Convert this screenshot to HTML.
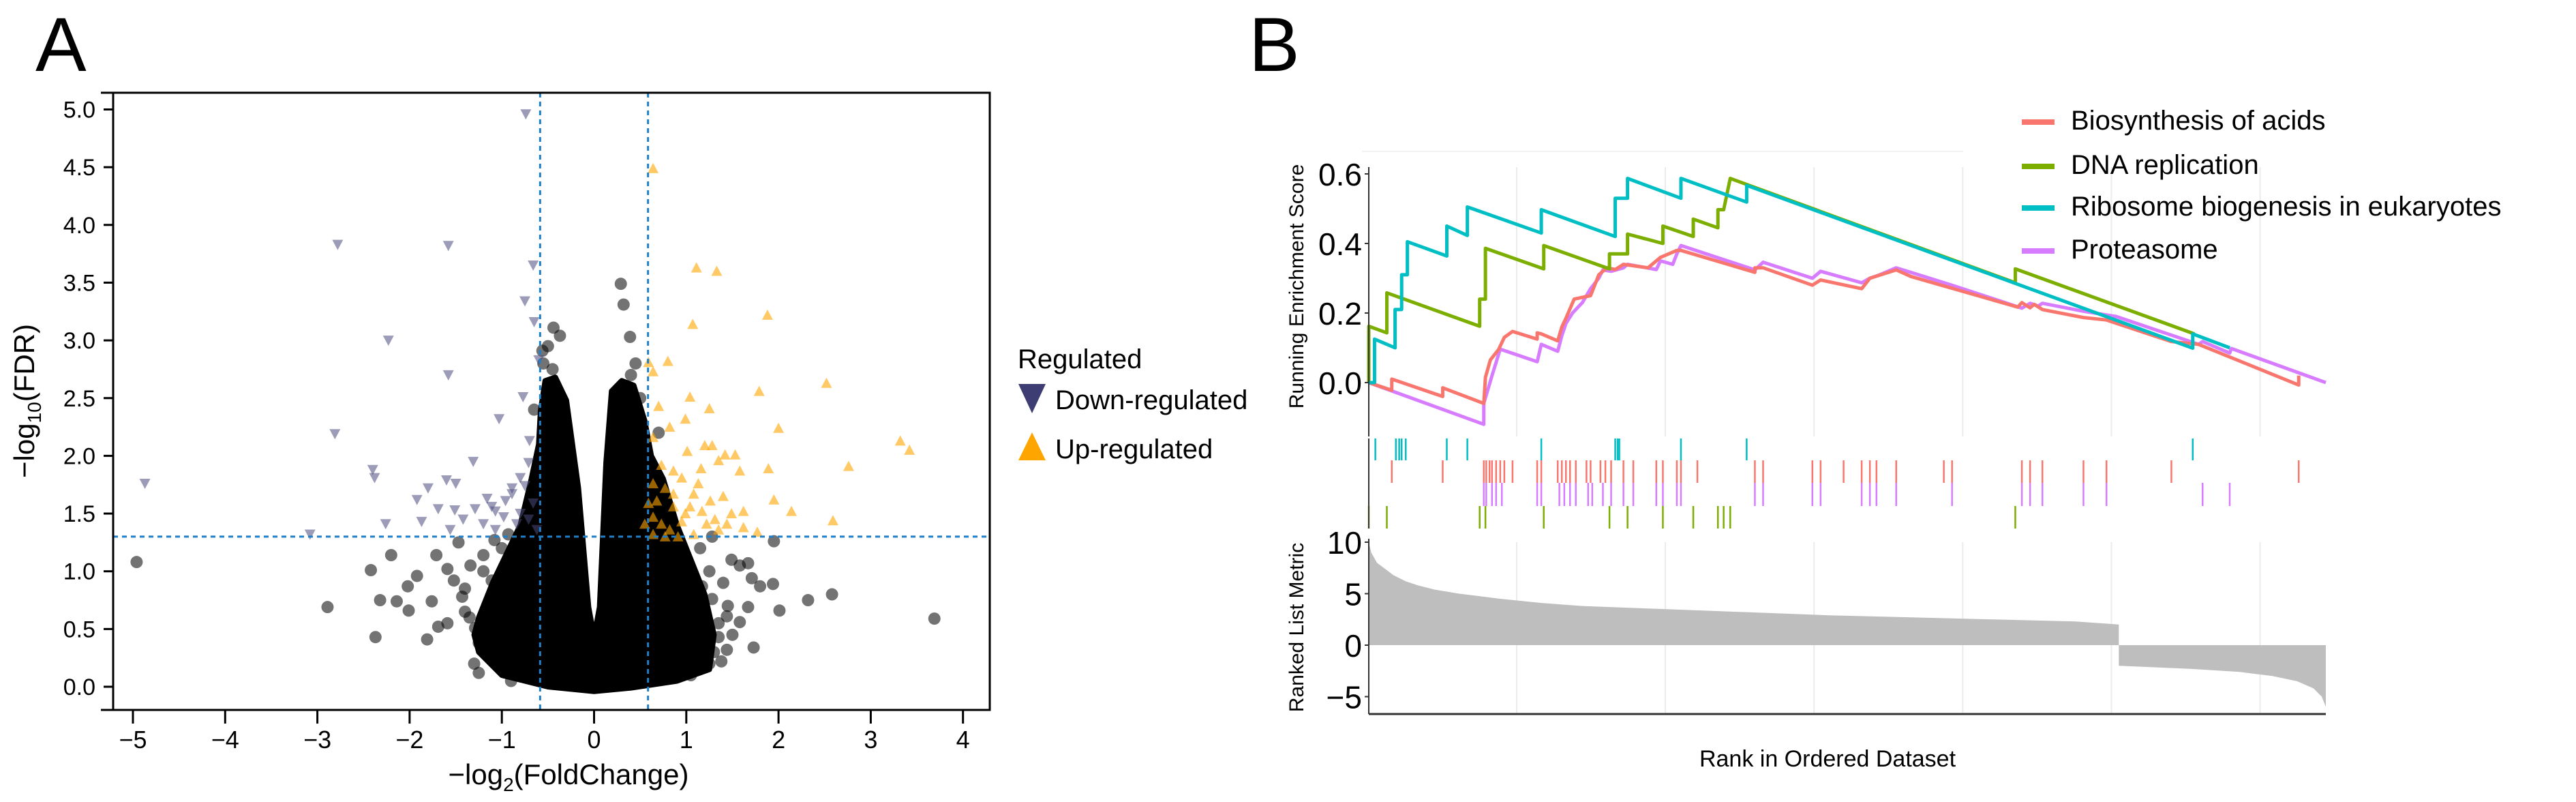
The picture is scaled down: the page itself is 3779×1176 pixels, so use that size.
<!DOCTYPE html>
<html><head><meta charset="utf-8"><style>
html,body{margin:0;padding:0;background:#fff;}
svg{display:block;font-family:"Liberation Sans",sans-serif;}
</style></head><body>
<svg id="fig" width="3779" height="1176" viewBox="0 0 3779 1176"></svg>
<script>
// ===== Panel A data (volcano) =====
const xTicksA = [-5,-4,-3,-2,-1,0,1,2,3,4];
const yTicksA = [0.0,0.5,1.0,1.5,2.0,2.5,3.0,3.5,4.0,4.5,5.0];
const fcCut = [-0.585, 0.585];
const fdrCut = [1.3];
const coreFC = [0,-0.5,-1.0,-1.25,-1.3,-1.25,-1.1,-0.95,-0.8,-0.68,-0.6,-0.58,-0.53,-0.42,-0.30,-0.17,-0.06,0,0.06,0.13,0.19,0.30,0.43,0.55,0.62,0.75,0.9,1.05,1.2,1.3,1.25,0.9,0.4];
const coreFDR = [-0.04,0.0,0.1,0.3,0.45,0.6,0.9,1.15,1.4,1.8,2.1,2.39,2.65,2.68,2.48,1.72,0.69,0.43,0.69,1.94,2.56,2.65,2.61,2.3,2.0,1.8,1.4,1.1,0.8,0.45,0.15,0.05,-0.01];
const nsFC = [-4.96,-2.89,-2.42,-2.20,-2.32,-2.37,-2.01,-2.14,-2.02,-1.92,-1.81,-1.76,-1.71,-1.69,-1.59,-1.59,-1.47,-1.52,-1.43,-1.40,-1.34,-1.29,-1.25,-1.20,-1.11,-1.08,-0.87,-0.93,0.29,0.32,0.39,-0.44,-0.37,-0.56,1.95,1.58,1.67,1.71,1.80,1.94,2.01,2.32,2.58,3.69,1.67,1.58,1.73,1.44,1.25,1.35,1.28,1.49,1.17,1.28,1.44,-1.3,-1.35,-1.4,-1.15,-1.2,-1.0,-0.9,-1.05,-0.8,-1.25,-1.1,1.35,1.4,1.3,1.15,1.45,1.25,1.05,1.5,1.38,1.2,-0.55,-0.5,-0.45,0.4,0.45,0.5,-0.65,0.7];
const nsFDR = [1.08,0.69,1.01,1.14,0.75,0.43,0.66,0.74,0.87,0.96,0.41,0.74,1.14,0.52,0.55,1.02,1.25,0.92,0.78,0.65,1.05,0.51,0.38,1.14,0.92,1.27,0.16,1.32,3.49,3.31,3.03,3.11,3.04,2.91,1.26,1.05,1.07,0.94,0.87,0.89,0.66,0.75,0.80,0.59,0.69,0.56,0.34,0.32,0.20,0.43,0.76,1.10,0.87,1.30,0.61,0.2,0.6,0.85,0.3,1.0,1.2,0.05,0.45,1.3,0.12,0.75,0.55,0.9,0.3,1.2,0.7,1.0,0.1,0.45,0.22,0.6,2.8,2.95,2.75,2.7,2.8,2.5,2.4,2.2];
const downFC = [-0.74,-2.78,-1.58,-0.66,-0.75,-0.65,-2.23,-0.60,-1.58,-0.77,-1.03,-2.81,-0.70,-1.31,-2.40,-2.38,-4.87,-1.60,-1.50,-1.80,-1.92,-1.69,-1.51,-1.29,-1.16,-1.07,-0.96,-0.89,-0.80,-0.84,-0.71,-0.62,-1.42,-1.56,-1.87,-2.26,-3.08,-1.20,-1.07,-0.80,-0.66,-0.98,-1.11,-0.71,-0.89,-0.75];
const downFDR = [4.96,3.83,3.82,3.65,3.34,3.16,3.00,2.83,2.70,2.51,2.32,2.19,2.13,1.95,1.88,1.81,1.76,1.79,1.76,1.72,1.62,1.54,1.53,1.54,1.63,1.52,1.61,1.67,1.81,1.41,1.45,1.36,1.45,1.36,1.43,1.41,1.32,1.41,1.36,1.50,1.59,1.47,1.56,1.94,1.72,1.74];
const upFC = [0.64,1.11,1.33,1.07,1.88,0.80,0.59,0.64,2.52,1.79,1.04,1.25,0.70,2.00,3.32,3.42,2.76,1.89,1.95,2.14,2.59,1.77,0.64,0.82,0.99,1.20,1.28,1.42,1.53,0.73,0.86,1.16,1.35,1.58,0.64,0.77,0.95,1.08,1.26,1.40,0.68,0.86,0.99,1.17,1.31,1.49,1.62,1.44,0.64,0.73,0.82,0.95,1.08,0.64,0.77,0.91,1.22,1.35,1.62,0.55,0.59,0.86,1.04,1.13,1.01];
const upFDR = [4.49,3.63,3.60,3.14,3.22,2.82,2.81,2.73,2.63,2.56,2.51,2.41,2.43,2.24,2.13,2.05,1.91,1.89,1.62,1.52,1.44,1.34,2.16,2.25,2.32,2.09,2.09,2.01,2.01,1.92,1.87,1.89,1.96,1.87,1.76,1.72,1.81,1.67,1.61,1.65,1.61,1.56,1.50,1.52,1.45,1.50,1.52,1.41,1.47,1.41,1.36,1.43,1.32,1.32,1.30,1.30,1.41,1.36,1.38,1.41,1.59,1.67,1.56,1.76,2.04];

// ===== Panel B data (GSEA) =====
const seriesNames = ["Biosynthesis of acids","DNA replication","Ribosome biogenesis in eukaryotes","Proteasome"];
const esTicks = [0.0,0.2,0.4,0.6];
const metricTicks = [10,5,0,-5];
const redRank = [0,28,28,90,90,140,142,148,158,165,175,205,205,210,230,235,240,250,270,280,290,300,310,340,355,375,380,470,470,480,540,550,600,610,642,660,790,795,805,810,820,870,898,977,1010,1132,1132];
const redES  = [0,-0.022,0.01,-0.04,-0.015,-0.06,0.015,0.065,0.095,0.13,0.147,0.125,0.143,0.14,0.12,0.16,0.185,0.24,0.25,0.31,0.33,0.325,0.34,0.33,0.36,0.38,0.38,0.317,0.33,0.33,0.28,0.295,0.27,0.3,0.324,0.305,0.217,0.23,0.215,0.225,0.21,0.187,0.18,0.118,0.11,-0.007,0.02];
const greenRank = [0,0,22,22,135,135,142,142,213,213,293,293,315,315,358,358,395,395,425,425,432,440,787,787,1005];
const greenES  = [0,0.162,0.143,0.258,0.162,0.24,0.24,0.386,0.327,0.394,0.327,0.37,0.37,0.427,0.40,0.45,0.42,0.47,0.445,0.497,0.497,0.587,0.287,0.327,0.14];
const cyanRank = [0,7,7,32,32,40,40,47,47,95,95,120,120,210,210,300,300,305,315,315,380,380,460,460,1003,1003,1048];
const cyanES  = [0,0,0.125,0.10,0.21,0.21,0.31,0.31,0.405,0.364,0.45,0.423,0.505,0.43,0.497,0.42,0.53,0.53,0.53,0.587,0.53,0.587,0.519,0.567,0.099,0.14,0.10];
const purpleRank = [0,140,140,150,160,205,210,230,235,240,248,260,270,280,285,295,310,315,350,355,370,375,380,470,480,540,550,600,610,620,642,710,795,805,815,820,870,910,1010,1015,1048,1050,1165];
const purpleES  = [0,-0.12,-0.06,0.02,0.096,0.06,0.11,0.09,0.135,0.17,0.2,0.23,0.27,0.3,0.324,0.32,0.33,0.34,0.325,0.35,0.34,0.37,0.394,0.324,0.346,0.30,0.32,0.287,0.30,0.308,0.33,0.28,0.214,0.228,0.22,0.228,0.205,0.19,0.11,0.118,0.085,0.098,0];
const cyanHits = [8,33,37,40,45,95,120,210,300,303,305,380,460,1003];
const redHits = [28,90,140,143,147,150,155,160,165,175,205,210,230,235,240,245,252,265,270,282,288,295,310,322,350,358,375,380,400,470,480,540,550,578,600,610,618,642,700,710,795,805,820,870,898,977,1132];
const purpleHits = [140,143,150,155,162,205,210,232,238,245,252,267,272,285,295,310,322,350,358,375,380,470,480,540,550,600,610,618,642,710,795,805,820,870,898,1015,1048];
const greenHits = [0,22,135,142,213,293,315,358,395,425,432,440,787];
const metricRank = [0,3,10,20,30,45,60,80,110,160,210,260,360,460,560,660,760,860,913,913,1000,1060,1100,1130,1150,1160,1165];
const metricVal  = [10,9.0,8.0,7.4,6.8,6.2,5.8,5.4,5.0,4.5,4.1,3.8,3.5,3.2,2.9,2.7,2.5,2.3,2.0,-2.0,-2.3,-2.6,-3.0,-3.5,-4.2,-5.0,-6.0];

const NS="http://www.w3.org/2000/svg";
const svg=document.getElementById('fig');
function el(tag,attrs,parent,text){const e=document.createElementNS(NS,tag);for(const k in attrs)e.setAttribute(k,attrs[k]);if(text!==undefined)e.textContent=text;(parent||svg).appendChild(e);return e;}

// ===== Panel A =====
const A={l:166,r:1452,t:136,b:1041};
const ax=v=>871.5+v*135.3;
const ay=v=>1007-v*169.3;
const gA=el('g',{});


const labA=el('text',{x:52,y:104,'font-size':112,fill:'#000'},svg,'A');


nsFC.forEach((f,i)=>{const c=el('circle',{cx:ax(f),cy:ay(nsFDR[i]),r:9,fill:'#000','fill-opacity':0.55},gA);

});
let dcore=coreFC.map((f,i)=>(i?'L':'M')+ax(f)+','+ay(coreFDR[i])).join('')+'Z';
const core=el('path',{d:dcore,fill:'#000',stroke:'#000','stroke-width':8,'stroke-linejoin':'round'},gA);

downFC.forEach((f,i)=>{const x=ax(f),y=ay(downFDR[i]);const p=el('path',{d:`M${x-8},${y-7}L${x+8},${y-7}L${x},${y+8}Z`,fill:'#4a4a80','fill-opacity':0.55},gA);

});
upFC.forEach((f,i)=>{const x=ax(f),y=ay(upFDR[i]);const p=el('path',{d:`M${x-8},${y+7}L${x+8},${y+7}L${x},${y-8}Z`,fill:'#ffa500','fill-opacity':0.6},gA);

});
fcCut.forEach(f=>{const l=el('line',{x1:ax(f),x2:ax(f),y1:A.t,y2:A.b,stroke:'#1f7fc9','stroke-width':3,'stroke-dasharray':'7,6'},gA);

});
fdrCut.forEach(v=>{const l=el('line',{x1:A.l,x2:A.r,y1:ay(v),y2:ay(v),stroke:'#1f7fc9','stroke-width':3,'stroke-dasharray':'7,6'},gA);

});
el('path',{d:`M148,${A.t}H${A.r}V${A.b}H148M${A.l},${A.t}V${A.b}`,fill:'none',stroke:'#000','stroke-width':3},gA);
xTicksA.forEach(v=>{el('line',{x1:ax(v),x2:ax(v),y1:A.b,y2:A.b+20,stroke:'#000','stroke-width':3},gA);
const t=el('text',{x:ax(v),y:1097,'font-size':36,'text-anchor':'middle'},gA,v<0?'\u2212'+(-v):String(v));
});
yTicksA.forEach(v=>{el('line',{x1:A.l-14,x2:A.l,y1:ay(v),y2:ay(v),stroke:'#000','stroke-width':3},gA);
const t=el('text',{x:140,y:ay(v)+12,'font-size':34,'text-anchor':'end'},gA,v.toFixed(1));
});
const xt=el('text',{x:834,y:1150,'font-size':42,'text-anchor':'middle'},gA);
xt.innerHTML='\u2212log<tspan font-size="28" dy="10">2</tspan><tspan dy="-10">(FoldChange)</tspan>';

const yt=el('text',{x:0,y:0,'font-size':42,'text-anchor':'middle',transform:'translate(50,588) rotate(-90)'},gA);
yt.innerHTML='\u2212log<tspan font-size="28" dy="10">10</tspan><tspan dy="-10">(FDR)</tspan>';

const lg=el('g',{},gA);
el('text',{x:1493,y:540,'font-size':40},lg,'Regulated');
el('path',{d:'M1494,563L1534,563L1514,606Z',fill:'#3d3d73'},lg);
el('text',{x:1548,y:600,'font-size':40},lg,'Down-regulated');
el('path',{d:'M1494,675L1534,675L1514,634Z',fill:'#ffa500'},lg);
el('text',{x:1548,y:672,'font-size':40},lg,'Up-regulated');

// ===== Panel B =====
const labB=el('text',{x:1832,y:104,'font-size':112},svg,'B');

const B={l:2008,r:3412};
const bx=r=>B.l+r*(1404/1165);
const by=v=>561-v*510;
const my=v=>946-v*15.1;
const gB=el('g',{});
const grid=[180,361,542,723,904,1085];
grid.forEach(g=>{el('line',{x1:bx(g),x2:bx(g),y1:245,y2:640,stroke:'#ebebeb','stroke-width':2},gB);
el('line',{x1:bx(g),x2:bx(g),y1:795,y2:1047,stroke:'#ebebeb','stroke-width':2},gB);});
el('line',{x1:1998,x2:2880,y1:222,y2:222,stroke:'#f2f2f2','stroke-width':2},gB);
let dm='M'+bx(0)+','+my(0)+metricRank.map((r,i)=>'L'+bx(r)+','+my(metricVal[i])).join('')+'L'+bx(1165)+','+my(0)+'Z';
const mp=el('path',{d:dm,fill:'#bebebe'},gB);
const cols=['#f8766d','#7cae00','#00bfc4','#d77cff'];
const ranks=[redRank,greenRank,cyanRank,purpleRank],ess=[redES,greenES,cyanES,purpleES];
[3,0,1,2].forEach(k=>{const d=ranks[k].map((r,i)=>(i?'L':'M')+bx(r)+','+by(ess[k][i])).join('');
const p=el('path',{d:d,fill:'none',stroke:cols[k],'stroke-width':5,'stroke-linejoin':'round'},gB);

});
const hits=[cyanHits,redHits,purpleHits,greenHits],hc=['#00bfc4','#f8766d','#d77cff','#7cae00'],rows=[[643,675],[675,708],[708,742],[742,775]];
hits.forEach((h,k)=>h.forEach(r=>{const l=el('line',{x1:bx(r),x2:bx(r),y1:rows[k][0],y2:rows[k][1],stroke:hc[k],'stroke-width':2.5},gB);

}));
el('line',{x1:B.l,x2:B.l,y1:245,y2:640,stroke:'#333','stroke-width':2},gB);
el('line',{x1:B.l,x2:B.l,y1:643,y2:775,stroke:'#333','stroke-width':2},gB);
el('line',{x1:B.l,x2:B.l,y1:790,y2:1047,stroke:'#333','stroke-width':2},gB);
el('line',{x1:B.l,x2:B.r,y1:1047,y2:1047,stroke:'#333','stroke-width':3},gB);
esTicks.forEach(v=>{el('line',{x1:B.l-6,x2:B.l,y1:by(v),y2:by(v),stroke:'#333','stroke-width':2},gB);
const t=el('text',{x:1998,y:by(v)+17,'font-size':46,'text-anchor':'end'},gB,v.toFixed(1));
});
metricTicks.forEach(v=>{el('line',{x1:B.l-6,x2:B.l,y1:my(v),y2:my(v),stroke:'#333','stroke-width':2},gB);
const t=el('text',{x:1998,y:my(v)+17,'font-size':46,'text-anchor':'end'},gB,v<0?'\u2212'+(-v):String(v));
});
const t1=el('text',{x:0,y:0,'font-size':30,'text-anchor':'middle',transform:'translate(1912,420) rotate(-90)'},gB,'Running Enrichment Score');

const t2=el('text',{x:0,y:0,'font-size':30,'text-anchor':'middle',transform:'translate(1912,920) rotate(-90)'},gB,'Ranked List Metric');

const t3=el('text',{x:2681,y:1124,'font-size':34,'text-anchor':'middle'},gB,'Rank in Ordered Dataset');

const lgB=el('g',{},gB);
const ly=[175,240,301,364];
seriesNames.forEach((n,i)=>{el('line',{x1:2966,x2:3014,y1:ly[i]+4,y2:ly[i]+4,stroke:cols[i],'stroke-width':8},lgB);
const t=el('text',{x:3038,y:ly[i]+15,'font-size':40},lgB,n);

});
</script>
</body></html>
